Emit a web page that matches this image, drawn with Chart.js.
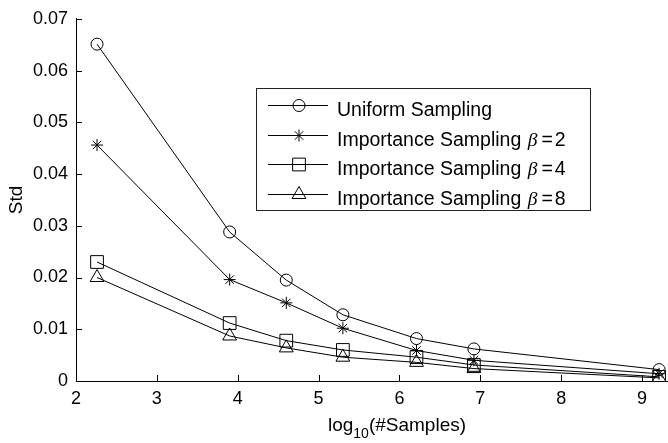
<!DOCTYPE html>
<html>
<head>
<meta charset="utf-8">
<script src="https://cdn.jsdelivr.net/npm/chart.js@4"></script>
<style>
  html, body { margin: 0; padding: 0; background: #fff; overflow: hidden; }
  #wrap { width: 740px; height: 443px; position: relative; }
</style>
</head>
<body>
<div id="wrap"><canvas id="myChart"></canvas></div>
<script>
// log10 of sample counts
const xValues = [2.26, 3.90, 4.60, 5.30, 6.21, 6.92, 9.21]

const uniform = [0.0651, 0.0288, 0.0195, 0.0128, 0.0082, 0.0062, 0.0022]
const beta2 = [0.0456, 0.0196, 0.0151, 0.0102, 0.0059, 0.0040, 0.0014]
const beta4 = [0.0230, 0.0112, 0.0078, 0.0060, 0.0046, 0.0031, 0.0008]
const beta8 = [0.0200, 0.0087, 0.0064, 0.0046, 0.0036, 0.0024, 0.0006]

const seriesLabels = ["Uniform Sampling", "Importance Sampling", "Importance Sampling", "Importance Sampling"]
const betaLabels = [null, "2", "4", "8"]
const markers = ["circle", "star", "rect", "triangle"]
const markerSizes = [6, 6, 9, 8]

const FONT = "'Liberation Sans', Arial, sans-serif"

function toPoints(ys){
    return ys.map((y, i) => ({x: xValues[i], y: y}))
}

const allSeries = [uniform, beta2, beta4, beta8]

const datasets = allSeries.map((ys, i) => ({
    label: seriesLabels[i] + (betaLabels[i] ? " β = " + betaLabels[i] : ""),
    data: toPoints(ys),
    borderColor: "#000",
    borderWidth: 1,
    backgroundColor: "rgba(0,0,0,0)",
    pointStyle: markers[i],
    pointRadius: markerSizes[i],
    pointHoverRadius: markerSizes[i],
    pointBorderColor: "#000",
    pointBorderWidth: 1,
    pointBackgroundColor: "rgba(0,0,0,0)",
    tension: 0,
    fill: false
}))

// inward tick marks, matlab style
const innerTicks = {
    id: "innerTicks",
    afterDraw(chart){
        const ctx = chart.ctx
        const xs = chart.scales.x
        const ys = chart.scales.y
        const area = chart.chartArea
        ctx.save()
        ctx.strokeStyle = "#000"
        ctx.lineWidth = 1
        ctx.beginPath()
        xs.ticks.forEach(t => {
            const px = Math.round(xs.getPixelForValue(t.value)) + 0.5
            ctx.moveTo(px, area.bottom)
            ctx.lineTo(px, area.bottom - 6)
        })
        ys.ticks.forEach(t => {
            const py = Math.round(ys.getPixelForValue(t.value)) + 0.5
            ctx.moveTo(area.left, py)
            ctx.lineTo(area.left + 6, py)
        })
        ctx.stroke()

        // x axis title with subscript
        const main = "19px " + FONT
        const sub = "14px " + FONT
        ctx.fillStyle = "#000"
        ctx.textBaseline = "alphabetic"
        ctx.font = main
        const w1 = ctx.measureText("log").width
        const w3 = ctx.measureText("(#Samples)").width
        ctx.font = sub
        const w2 = ctx.measureText("10").width
        let x = 397 - (w1 + w2 + w3) / 2
        ctx.font = main
        ctx.fillText("log", x, 431)
        x += w1
        ctx.font = sub
        ctx.fillText("10", x, 438)
        x += w2
        ctx.font = main
        ctx.fillText("(#Samples)", x, 431)
        ctx.restore()
    }
}

const boxLegend = {
    id: "boxLegend",
    afterDraw(chart){
        const ctx = chart.ctx
        ctx.save()
        ctx.fillStyle = "#fff"
        ctx.fillRect(256, 88, 334, 122)
        ctx.strokeStyle = "#222"
        ctx.lineWidth = 1
        ctx.strokeRect(256.5, 88.5, 334, 122)

        const font = "19.5px " + FONT
        const ital = "italic 19.5px 'Liberation Serif', serif"
        chart.data.datasets.forEach((ds, i) => {
            const y = Math.round(105 + i * 29.7) + 0.5
            ctx.strokeStyle = "#000"
            ctx.beginPath()
            ctx.moveTo(268, y)
            ctx.lineTo(328, y)
            ctx.stroke()
            ctx.fillStyle = "rgba(0,0,0,0)"
            Chart.helpers.drawPoint(ctx, {
                pointStyle: ds.pointStyle,
                radius: ds.pointRadius,
                rotation: 0,
                borderWidth: 1
            }, 299, y)

            ctx.fillStyle = "#000"
            ctx.textBaseline = "alphabetic"
            ctx.font = font
            ctx.fillText(seriesLabels[i], 337, y + 10)
            if(betaLabels[i]){
                let x = 337 + ctx.measureText(seriesLabels[i] + " ").width + 1
                ctx.font = ital
                ctx.fillText("β", x, y + 10)
                x += ctx.measureText("β").width + 4
                ctx.font = font
                ctx.fillText("=", x, y + 10)
                x += ctx.measureText("=").width + 2
                ctx.fillText(betaLabels[i], x, y + 10)
            }
        })
        ctx.restore()
    }
}

const config = {
    type: "line",
    data: { datasets: datasets },
    options: {
        responsive: true,
        maintainAspectRatio: false,
        animation: false,
        events: [],
        layout: { padding: { left: 0, top: 14, right: 15, bottom: 0 } },
        plugins: {
            legend: { display: false },
            tooltip: { enabled: false }
        },
        scales: {
            x: {
                type: "linear",
                min: 2,
                max: 10,
                grid: { display: false, drawTicks: false },
                border: { display: true, color: "#000", width: 1 },
                ticks: {
                    stepSize: 1,
                    padding: 7,
                    color: "#000",
                    font: { family: FONT, size: 18 },
                    maxRotation: 0
                },
                afterFit(scale){ scale.height = 62 }
            },
            y: {
                type: "linear",
                min: 0,
                max: 0.07,
                grid: { display: false, drawTicks: false },
                border: { display: true, color: "#000", width: 1 },
                ticks: {
                    stepSize: 0.01,
                    padding: 8,
                    color: "#000",
                    font: { family: FONT, size: 18 },
                    callback: v => v === 0 ? "0" : v.toFixed(2)
                },
                title: {
                    display: true,
                    text: "Std",
                    color: "#000",
                    font: { family: FONT, size: 19 },
                    padding: { top: 5, bottom: 0 }
                },
                afterFit(scale){ scale.width = 76 }
            }
        }
    },
    plugins: [innerTicks, boxLegend]
}

new Chart(document.getElementById("myChart"), config)
</script>
</body>
</html>
